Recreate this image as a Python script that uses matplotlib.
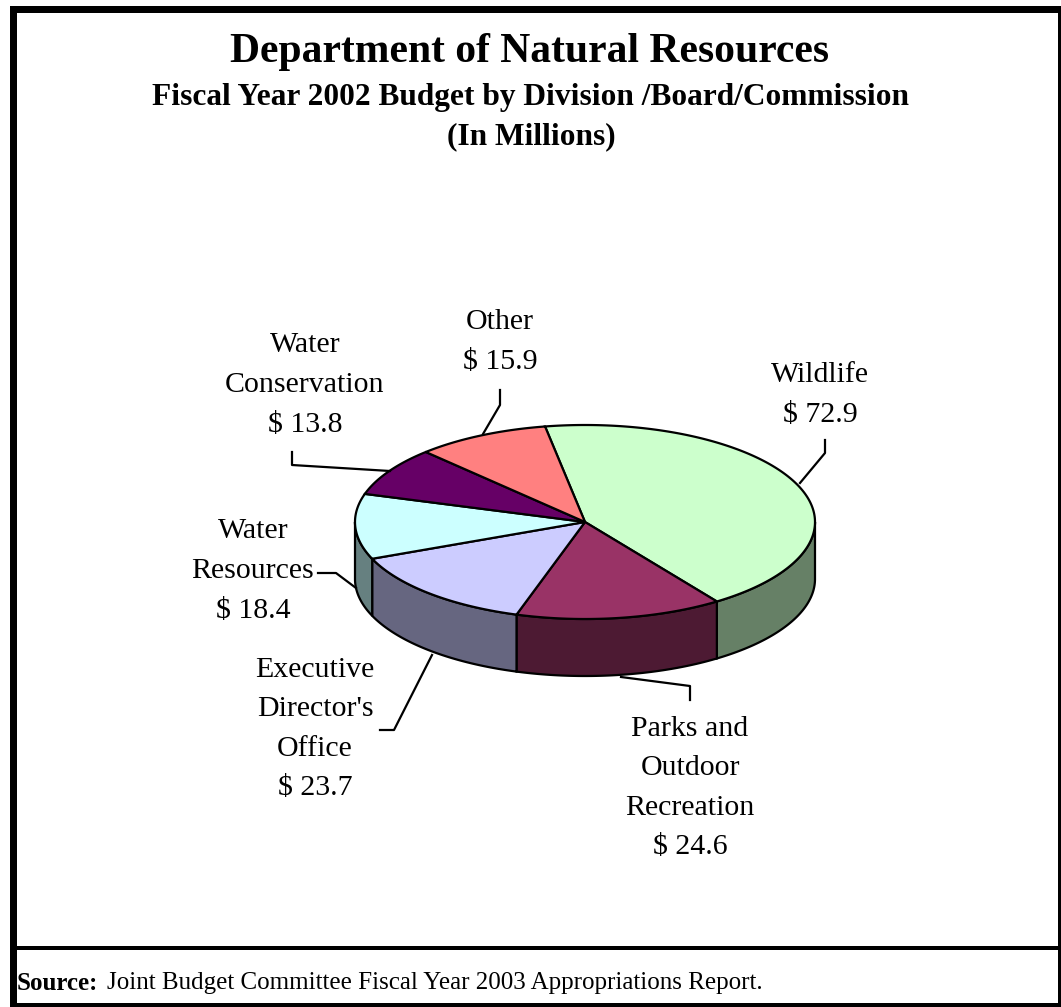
import matplotlib
matplotlib.use("Agg")
import matplotlib.pyplot as plt
from matplotlib.patches import Polygon, Rectangle
import numpy as np

# budget by division, FY2002, $ millions (clockwise from the top)
labels = ["Wildlife", "Parks and\nOutdoor\nRecreation", "Executive\nDirector's\nOffice",
          "Water\nResources", "Water\nConservation", "Other"]
values = [72.9, 24.6, 23.7, 18.4, 13.8, 15.9]
top_colors = ["#CCFFCC", "#993366", "#CCCCFF", "#CCFFFF", "#660066", "#FF8080"]
side_colors = ["#668066", "#4D1A33", "#666680", "#668080", "#330033", "#804040"]

W, H = 1061, 1007
fig = plt.figure(figsize=(W / 100, H / 100), dpi=100)
ax = fig.add_axes([0, 0, 1, 1])
ax.set_xlim(0, W)
ax.set_ylim(H, 0)
ax.axis("off")

serif = ["Liberation Serif", "DejaVu Serif"]

# frame
for x, y, w, h in [(10, 6, 7, H - 6), (10, 6, W - 10, 7), (1058, 6, 3, H - 6),
                   (10, 946, W - 10, 4), (10, 1003, W - 10, 4)]:
    ax.add_patch(Rectangle((x, y), w, h, color="black", lw=0, zorder=5))

# titles
ax.text(530, 52, "Department of Natural Resources", ha="center", va="center",
        fontsize=30, fontweight="bold", family=serif)
ax.text(531, 98, "Fiscal Year 2002 Budget by Division /Board/Commission", ha="center",
        va="center", fontsize=22.6, fontweight="bold", family=serif)
ax.text(531, 137, "(In Millions)", ha="center", va="center", fontsize=22.6,
        fontweight="bold", family=serif)

# 3-D pie
cx, cy, a, b, depth = 585, 522, 230, 97, 57
start = 100.0
bounds = start - np.concatenate([[0], np.cumsum(values)]) / sum(values) * 360


def pt(t, dy=0.0):
    r = np.radians(t)
    return cx + a * np.cos(r), cy - b * np.sin(r) + dy


# side walls (front half only)
for i in range(len(values)):
    t0, t1 = bounds[i], bounds[i + 1]
    for k in range(-2, 2):
        lo, hi = 180 + 360 * k, 360 + 360 * k
        s, e = max(t1, lo), min(t0, hi)
        if e <= s:
            continue
        ts = np.linspace(s, e, 120)
        upper = [pt(t) for t in ts]
        lower = [pt(t, depth) for t in ts[::-1]]
        ax.add_patch(Polygon(upper + lower, closed=True, fc=side_colors[i],
                             ec="black", lw=1.6, zorder=2))

# top faces
for i in range(len(values)):
    ts = np.linspace(bounds[i], bounds[i + 1], 200)
    verts = [(cx, cy)] + [pt(t) for t in ts]
    ax.add_patch(Polygon(verts, closed=True, fc=top_colors[i], ec="black",
                         lw=1.6, zorder=3))

# labels
label_pos = [(820, 395), (690, 788), (315, 729), (253, 571), (305, 385), (500, 342)]
for lab, v, (x, y) in zip(labels, values, label_pos):
    ax.text(x, y, f"{lab}\n$ {v}", ha="center", va="center", fontsize=21.5,
            family=serif, linespacing=1.68, zorder=4)

# leader lines
leaders = [
    [(825, 440), (825, 453), (800, 483)],
    [(621, 677), (690, 686), (690, 700)],
    [(380, 730), (394, 730), (432, 655)],
    [(318, 573), (336, 573), (356, 588)],
    [(292, 452), (292, 465), (390, 471)],
    [(500, 390), (500, 405), (483, 434)],
]
for seg in leaders:
    xs, ys = zip(*seg)
    ax.plot(xs, ys, color="black", lw=1.6, zorder=4)

# source note
src = ax.text(17, 983, "Source:", ha="left", va="center", fontsize=18,
              fontweight="bold", family=serif)
ax.annotate("Joint Budget Committee Fiscal Year 2003 Appropriations Report.",
            xy=(1, 0.5), xycoords=src, xytext=(6, 0), textcoords="offset points",
            ha="left", va="center", fontsize=18, family=serif)

fig.savefig("out.png", dpi=100)
